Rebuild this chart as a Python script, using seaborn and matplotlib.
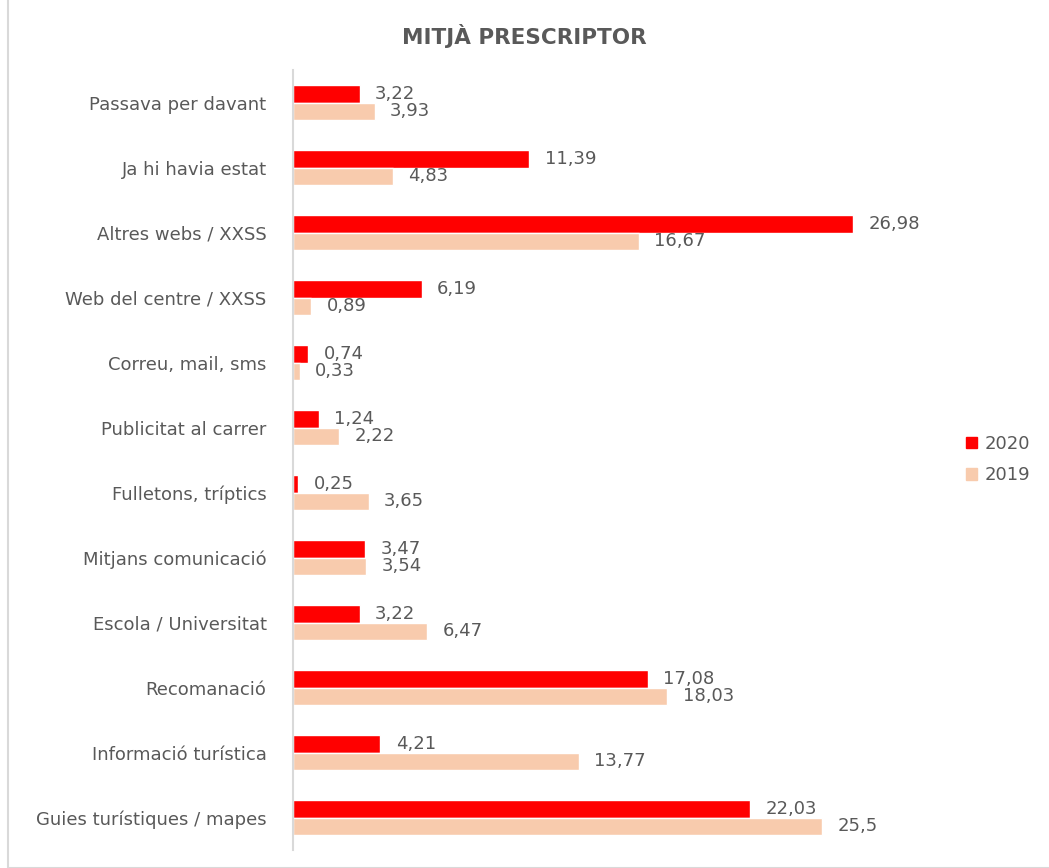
import matplotlib
matplotlib.use("Agg")
import matplotlib.pyplot as plt
import matplotlib.patches as mpatches
import seaborn as sns
import pandas as pd

categories = [
    "Passava per davant",
    "Ja hi havia estat",
    "Altres webs / XXSS",
    "Web del centre / XXSS",
    "Correu, mail, sms",
    "Publicitat al carrer",
    "Fulletons, tríptics",
    "Mitjans comunicació",
    "Escola / Universitat",
    "Recomanació",
    "Informació turística",
    "Guies turístiques / mapes",
]
values_2020 = [3.22, 11.39, 26.98, 6.19, 0.74, 1.24, 0.25, 3.47, 3.22, 17.08, 4.21, 22.03]
values_2019 = [3.93, 4.83, 16.67, 0.89, 0.33, 2.22, 3.65, 3.54, 6.47, 18.03, 13.77, 25.5]
series = ["2020", "2019"]
colors = {"2020": "#FF0000", "2019": "#F8CBAD"}
title = "MITJÀ PRESCRIPTOR"

df = pd.DataFrame({
    "categoria": categories * 2,
    "valor": values_2020 + values_2019,
    "any": ["2020"] * len(categories) + ["2019"] * len(categories),
})

sns.set_theme(style="white")
plt.rcParams["font.family"] = "DejaVu Sans"
plt.rcParams["font.sans-serif"] = ["DejaVu Sans"]
text_color = "#595959"
fam = "DejaVu Sans"
fs = 13

fig = plt.figure(figsize=(10.49, 8.68), dpi=100)
ax = fig.add_axes([293 / 1049, 18 / 868, (944 - 293) / 1049, 780 / 868])

sns.barplot(
    data=df, y="categoria", x="valor", hue="any", hue_order=series,
    order=categories, palette=colors, orient="h", width=0.53,
    saturation=1, ax=ax, legend=False,
)

ax.set_xlim(0, (944 - 293) / 20.76)
ax.set_ylim(len(categories) - 0.5, -0.5)
ax.set_xlabel("")
ax.set_ylabel("")
ax.set_xticks([])
ax.tick_params(axis="y", length=0, pad=19)
for lbl in ax.get_yticklabels():
    lbl.set_fontfamily(fam)
    lbl.set_fontsize(fs)
    lbl.set_color(text_color)
for s in ["top", "right", "bottom"]:
    ax.spines[s].set_visible(False)
ax.spines["left"].set_color("#D9D9D9")
ax.spines["left"].set_linewidth(1.5)

# value labels after each bar, with comma decimals
for container, vals in zip(ax.containers, [values_2020, values_2019]):
    labels = [f"{v:g}".replace(".", ",") for v in vals]
    texts = ax.bar_label(container, labels=labels, padding=11, fontsize=fs,
                         color=text_color)
    for t in texts:
        t.set_fontfamily(fam)

fig.text(0.5, 0.959, title, ha="center", va="center", fontsize=15.5,
         fontweight="bold", color=text_color, family=fam)

handles = [mpatches.Patch(color=colors[s], label=s) for s in series]
fig.legend(handles=handles, loc="center left", bbox_to_anchor=(0.905, 0.4706),
           frameon=False, prop={"family": fam, "size": fs}, labelcolor=text_color,
           handlelength=0.62, handleheight=0.62, handletextpad=0.45, labelspacing=0.75)

# light outer frame of the chart area
fig.patches.append(mpatches.Rectangle((8 / 1049, 0), 1.2, 1.2, transform=fig.transFigure,
                                      fill=False, edgecolor="#D9D9D9", linewidth=1.5))

fig.savefig("out.png", dpi=100)
